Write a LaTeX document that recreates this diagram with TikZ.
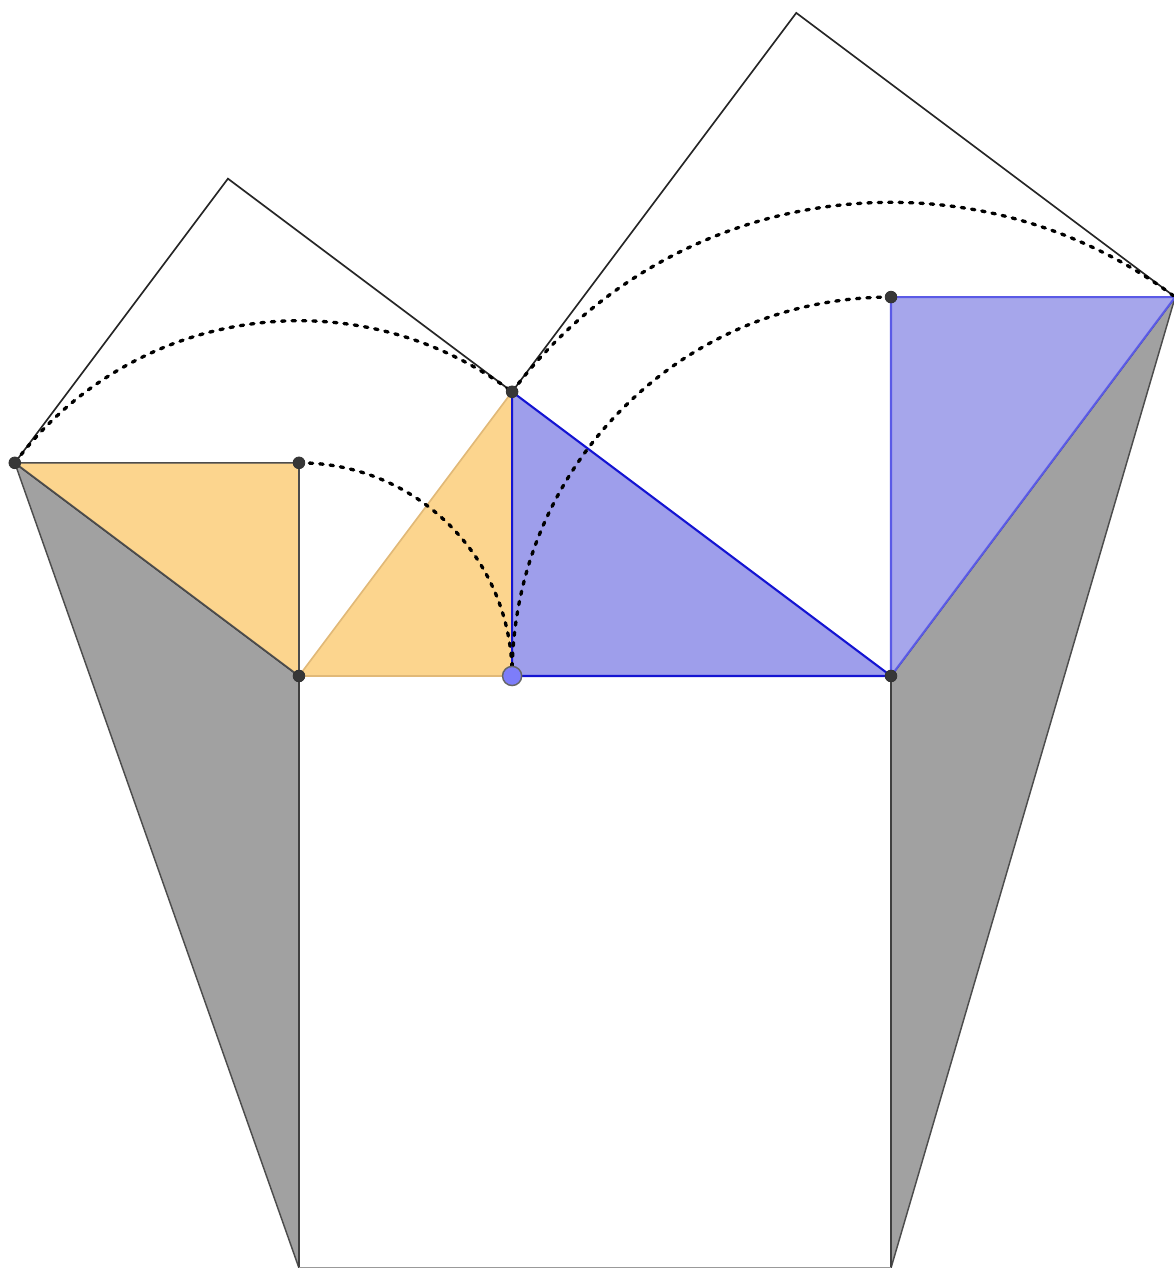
\documentclass[tikz,border=0pt]{standalone}
\definecolor{orfill}{RGB}{252,213,142}
\definecolor{oredge}{RGB}{225,185,120}
\definecolor{blfill}{RGB}{158,158,235}
\definecolor{blfillb}{RGB}{166,166,235}
\definecolor{bledge}{RGB}{20,20,210}
\definecolor{bledgeb}{RGB}{90,90,230}
\definecolor{grfill}{RGB}{161,161,161}
\definecolor{ptfill}{RGB}{55,55,55}
\definecolor{bpfill}{RGB}{125,125,250}
\begin{document}
\begin{tikzpicture}[x=1cm,y=1cm,
  edge/.style={draw=black!85,line width=0.4pt},
  grayface/.style={fill=grfill,draw=black!70,line width=0.35pt},
  arcline/.style={line width=0.8pt,dash pattern=on 0.8pt off 1.7pt,line cap=round},
  pt/.style={fill=ptfill,draw=black!80,line width=0.2pt},
  bpt/.style={fill=bpfill,draw=black!60,line width=0.35pt}]
\useasboundingbox (-2.525,-5.0) rectangle (7.39,5.709);
% key points
\coordinate (A) at (0,0);
\coordinate (B) at (5,0);
\coordinate (C) at (1.8,2.4);
\coordinate (D) at (1.8,0);
\coordinate (P) at (-2.4,1.8);
\coordinate (Q) at (-0.6,4.2);
\coordinate (R) at (4.2,5.6);
\coordinate (S) at (7.4,3.2);
\coordinate (E) at (0,1.8);
\coordinate (F) at (5,3.2);
\coordinate (G) at (0,-5);
\coordinate (H) at (5,-5);
% gray triangles
\path[grayface] (P) -- (A) -- (G) -- cycle;
\path[grayface] (S) -- (B) -- (H) -- cycle;
% big square
\draw[draw=black!75,line width=0.4pt] (A) -- (G);
\draw[draw=black!75,line width=0.4pt] (B) -- (H);
\draw[draw=black!40,line width=0.4pt] (G) -- (H);
% squares on legs
\draw[edge] (A) -- (P) -- (Q) -- (C);
\draw[edge] (C) -- (R) -- (S) -- (B);
% orange triangles
\path[fill=orfill,draw=black!70,line width=0.4pt] (P) -- (E) -- (A) -- cycle;
\path[fill=orfill,draw=oredge,line width=0.4pt] (A) -- (C) -- (D) -- cycle;
% blue triangles
\path[fill=blfill,draw=bledge,line width=0.5pt] (C) -- (D) -- (B) -- cycle;
\path[fill=blfillb,draw=bledgeb,line width=0.5pt] (F) -- (S) -- (B) -- cycle;
% dotted arcs
\draw[arcline] (P) arc[start angle=143.13,end angle=53.13,radius=3];
\draw[arcline] (E) arc[start angle=90,end angle=0,radius=1.8];
\draw[arcline] (C) arc[start angle=143.13,end angle=53.13,radius=4];
\draw[arcline] (F) arc[start angle=90,end angle=180,radius=3.2];
% points
\foreach \p in {P,E,A,C,F,B} \path[pt] (\p) circle[radius=1.4pt];
\path[bpt] (D) circle[radius=2.3pt];
\end{tikzpicture}
\end{document}
